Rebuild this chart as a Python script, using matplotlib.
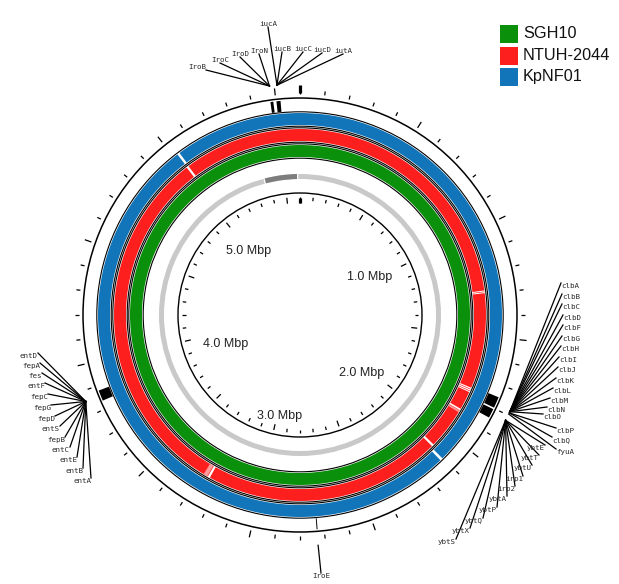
import numpy as np
import matplotlib.pyplot as plt
from matplotlib.patches import Wedge, Circle, Rectangle
from matplotlib.collections import LineCollection

GENOME_MBP = 5.6

SAMPLES = ["SGH10", "NTUH-2044", "KpNF01"]
SAMPLE_COLORS = ["#0b900b", "#fd1e1e", "#1275ba"]

# stretches without BLAST hits (white) per ring, in Mbp
GAPS_SGH10 = []
GAPS_NTUH = [(1.282, 1.287), (1.290, 1.295), (1.758, 1.764), (1.767, 1.773),
             (1.776, 1.781), (1.871, 1.879), (2.086, 2.097), (3.251, 3.262),
             (5.016, 5.027)]
GAPS_KPNF = [(2.103, 2.115), (5.019, 5.030)]
PALE_NTUH = [(3.265, 3.285), (1.881, 1.890)]

# backbone ring: highlighted segment
BACKBONE_DARK = (5.37, 5.585)

# annotated loci drawn in the feature ring (start, end Mbp)
FEATURES = [(5.477, 5.489), (5.502, 5.519), (1.750, 1.797), (1.804, 1.843),
            (2.727, 2.731), (3.835, 3.880)]

GENES = ["IroB", "IroC", "IroD", "IroN", "iucA", "iucB", "iucC", "iucD", "iutA",
         "clbA", "clbB", "clbC", "clbD", "clbF", "clbG", "clbH", "clbI", "clbJ",
         "clbK", "clbL", "clbM", "clbN", "clbO", "clbP", "clbQ", "fyuA",
         "ybtE", "ybtT", "ybtU", "irp1", "irp2", "ybtA", "ybtP", "ybtQ", "ybtX", "ybtS",
         "entD", "fepA", "fes", "entF", "fepC", "fepG", "fepD", "entS", "fepB",
         "entC", "entE", "entB", "entA", "IroE"]
GENE_POS = [5.482, 5.482, 5.482, 5.482, 5.511, 5.511, 5.511, 5.511, 5.511,
            1.785, 1.785, 1.785, 1.785, 1.785, 1.785, 1.785, 1.785, 1.785,
            1.785, 1.785, 1.785, 1.785, 1.785, 1.790, 1.790, 1.795,
            1.822, 1.822, 1.822, 1.822, 1.822, 1.822, 1.822, 1.822, 1.822, 1.822,
            3.858, 3.858, 3.858, 3.858, 3.858, 3.858, 3.858, 3.858, 3.858,
            3.858, 3.858, 3.858, 3.858, 2.730]

# label layout: leader end in image pixels and text alignment
LABEL_LAYOUT = [
    (206, 70, "right", "bottom"), (220, 63, "center", "bottom"), (240, 57, "center", "bottom"),
    (259, 54, "center", "bottom"), (268, 27, "center", "bottom"), (282, 52, "center", "bottom"),
    (303, 52, "center", "bottom"), (322, 53, "center", "bottom"), (343, 54, "center", "bottom"),
    (561, 283, "left", "top"), (562, 294, "left", "top"), (562, 304, "left", "top"),
    (563, 315, "left", "top"), (563, 325, "left", "top"), (562, 336, "left", "top"),
    (561, 346, "left", "top"), (559, 357, "left", "top"), (558, 367, "left", "top"),
    (556, 378, "left", "top"), (553, 388, "left", "top"), (550, 398, "left", "top"),
    (547, 407, "left", "top"), (543, 414, "left", "top"), (556, 428, "left", "top"),
    (552, 437, "left", "top"), (556, 449, "left", "top"),
    (545, 445, "right", "top"), (539, 455, "right", "top"), (532, 465, "right", "top"),
    (523, 476, "right", "top"), (515, 486, "right", "top"), (507, 496, "right", "top"),
    (497, 507, "right", "top"), (483, 518, "right", "top"), (470, 528, "right", "top"),
    (456, 539, "right", "top"),
    (38, 353, "right", "top"), (40, 363, "right", "top"), (42, 373, "right", "top"),
    (45, 383, "right", "top"), (48, 394, "right", "top"), (51, 405, "right", "top"),
    (55, 416, "right", "top"), (60, 426, "right", "top"), (65, 437, "right", "top"),
    (70, 447, "right", "top"), (77, 457, "right", "top"), (83, 468, "right", "top"),
    (91, 478, "right", "top"), (321, 573, "center", "top"),
]

MBP_LABELS = [1.0, 2.0, 3.0, 4.0, 5.0]
MBP_NUDGE = [-5, 9, 13, 12, 0]  # vertical pixel nudge of scale labels

CX, CY = 300, 315  # map centre in image pixels


def px(x, y):
    return x - CX, CY - y


def ang(mbp):
    return mbp / GENOME_MBP * 360.0


def polar(r, mbp):
    t = np.radians(ang(mbp))
    return r * np.sin(t), r * np.cos(t)


def arc(ax, r_in, r_out, s, e, color):
    ax.add_patch(Wedge((0, 0), r_out, 90 - ang(e), 90 - ang(s),
                       width=r_out - r_in, facecolor=color, edgecolor="none"))


fig = plt.figure(figsize=(6.19, 5.84), dpi=100)
ax = fig.add_axes([0, 0, 1, 1])
ax.set_xlim(-CX, 619 - CX)
ax.set_ylim(CY - 584, CY)
ax.set_aspect("equal")
ax.axis("off")

# sample rings, inner to outer
ring_radii = [(158, 170), (174, 186), (190, 202)]
ring_gaps = [GAPS_SGH10, GAPS_NTUH, GAPS_KPNF]
for (r_in, r_out), color, gaps in zip(ring_radii, SAMPLE_COLORS, ring_gaps):
    arc(ax, r_in, r_out, 0, GENOME_MBP, color)
    for s, e in gaps:
        arc(ax, r_in - 0.5, r_out + 0.5, s, e, "white")
    for r in (r_in - 1.2, r_out + 1.2):
        ax.add_patch(Circle((0, 0), r, fill=False, lw=0.8, ec="black"))
for s, e in PALE_NTUH:
    arc(ax, 174, 186, s, e, "#ff9a9a")

# backbone ring
arc(ax, 136, 141, 0, GENOME_MBP, "#c9c9c9")
arc(ax, 136, 141, BACKBONE_DARK[0], BACKBONE_DARK[1], "#7d7d7d")
for b in BACKBONE_DARK:
    arc(ax, 135, 142, b - 0.004, b + 0.004, "white")

# scale circles and ticks
ax.add_patch(Circle((0, 0), 122, fill=False, lw=1.0, ec="black"))
ax.add_patch(Circle((0, 0), 217, fill=False, lw=1.1, ec="black"))

tick_pos = np.round(np.arange(0, GENOME_MBP - 0.05, 0.1), 1)
inner, outer = [], []
for p in tick_pos:
    major = abs(p * 2 - round(p * 2)) < 1e-6
    inner.append([polar(118, p), polar(112 if major else 114.5, p)])
    outer.append([polar(221, p), polar(228 if major else 225, p)])
ax.add_collection(LineCollection(inner, colors="black", linewidths=0.9))
ax.add_collection(LineCollection(outer, colors="black", linewidths=0.9))
ax.plot(*zip(polar(117.5, 0), polar(112, 0)), color="black", lw=2.3, solid_capstyle="butt")
ax.plot(*zip(polar(222, 0), polar(230, 0)), color="black", lw=2.3, solid_capstyle="butt")

w_lab, h_lab = 46, 10
for m, dy in zip(MBP_LABELS, MBP_NUDGE):
    t = np.radians(ang(m))
    rc = 100 - (abs(np.sin(t)) * w_lab / 2 + abs(np.cos(t)) * h_lab / 2)
    x, y = polar(rc, m)
    ax.text(x, y - dy, f"{m:.1f} Mbp", ha="center", va="center", fontsize=9,
            family="Liberation Sans", color="#222222")

# feature ring
for s, e in FEATURES:
    arc(ax, 204, 215, s, e, "black")

# gene leaders and labels
for name, pos, (lx, ly, ha, va) in zip(GENES, GENE_POS, LABEL_LAYOUT):
    x0, y0 = polar(231, pos)
    x1, y1 = px(lx, ly)
    ax.plot([x0, x1], [y0, y1], color="black", lw=0.9)
    ax.text(x1, y1, name, ha=ha, va=va, fontsize=5.4, family="DejaVu Sans Mono",
            color="#2a2a2a")

# legend
for i, (name, color) in enumerate(zip(SAMPLES, SAMPLE_COLORS)):
    x, y = px(500, 43 + i * 21.5)
    ax.add_patch(Rectangle((x, y), 18, 18, facecolor=color, edgecolor="none"))
    ax.text(x + 23, y + 9, name, ha="left", va="center", fontsize=11.7,
            family="Liberation Sans", color="#111111")

fig.savefig("out.png", dpi=100)
